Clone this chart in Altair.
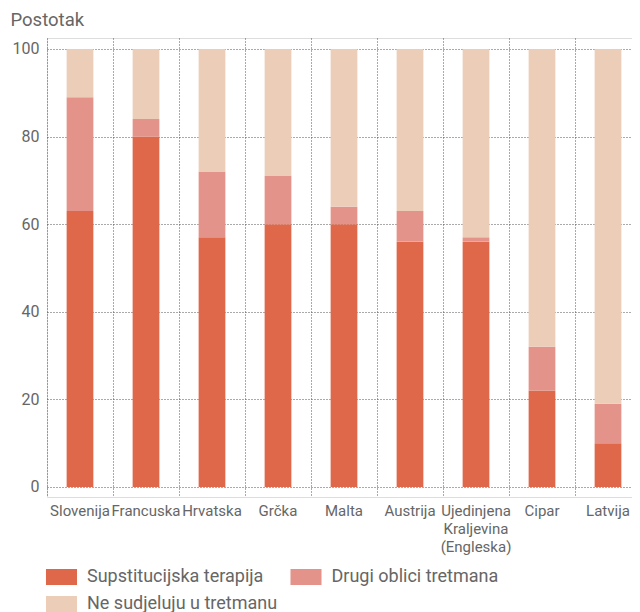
import altair as alt
import pandas as pd

countries = ["Slovenija", "Francuska", "Hrvatska", "Grčka", "Malta", "Austrija",
             "Ujedinjena Kraljevina (Engleska)", "Cipar", "Latvija"]
supstitucijska = [63, 80, 57, 60, 60, 56, 56, 22, 10]
drugi = [26, 4, 15, 11, 4, 7, 1, 10, 9]
ne_sudjeluju = [11, 16, 28, 29, 36, 37, 43, 68, 81]

series_names = ["Supstitucijska terapija", "Drugi oblici tretmana", "Ne sudjeluju u tretmanu"]
series_colors = ["#E0684A", "#E39389", "#ECCDB8"]
y_ticks = [0, 20, 40, 60, 80, 100]

rows = []
for i, c in enumerate(countries):
    for k, (name, vals) in enumerate(zip(series_names, [supstitucijska, drugi, ne_sudjeluju])):
        rows.append({"Država": c, "Serija": name, "Postotak": vals[i], "red": k})
df = pd.DataFrame(rows)

FONT = "Roboto"
TXT = "#666666"
GRID = "#555555"

rect_path = "M-1.94,-1H1.94V1H-1.94Z"

chart = alt.Chart(df).mark_bar(width=alt.RelativeBandSize(0.405)).encode(
    x=alt.X("Država:N", sort=countries,
            scale=alt.Scale(paddingInner=0, paddingOuter=0),
            axis=alt.Axis(title=None, labelAngle=0, domain=False, ticks=False,
                          grid=True, bandPosition=0, gridDash=[1, 2], gridColor=GRID,
                          gridWidth=1, gridOpacity=1,
                          labelFont=FONT, labelFontSize=15, labelColor=TXT,
                          labelPadding=6, labelLineHeight=18, labelLimit=200,
                          labelExpr="indexof(datum.label, ' ') > 0 ? split(datum.label, ' ') : datum.label")),
    y=alt.Y("Postotak:Q", stack="zero",
            scale=alt.Scale(domain=[-2.3, 102.5], nice=False, zero=False),
            axis=alt.Axis(values=y_ticks, domain=False, ticks=False, grid=True,
                          gridDash=[1, 2], gridColor=GRID, gridWidth=1, gridOpacity=1,
                          labelFont=FONT, labelFontSize=16, labelColor=TXT, labelPadding=8,
                          title="Postotak", titleAngle=0, titleAlign="left",
                          titleBaseline="alphabetic", titleX=-37, titleY=-13,
                          titleFont=FONT, titleFontSize=18.5, titleFontWeight="normal",
                          titleColor=TXT)),
    color=alt.Color("Serija:N",
                    scale=alt.Scale(domain=series_names, range=series_colors),
                    legend=alt.Legend(title=None, orient="none", legendX=5.5, legendY=530,
                                      columns=2, direction="horizontal", padding=0,
                                      symbolType=rect_path, symbolSize=256,
                                      symbolStrokeWidth=0, symbolOpacity=1,
                                      labelFont=FONT, labelFontSize=18, labelColor=TXT,
                                      labelOffset=16.5, labelLimit=300,
                                      rowPadding=9, columnPadding=12.5)),
    order=alt.Order("red:Q", sort="ascending"),
).properties(
    width=594, height=459,
    autosize=alt.AutoSizeParams(type="none"),
    padding={"left": 39, "top": 30, "right": -9, "bottom": 115},
).configure_view(stroke=None).configure(font=FONT)

chart.save("out.html", embed_options={"renderer": "svg", "actions": False})
